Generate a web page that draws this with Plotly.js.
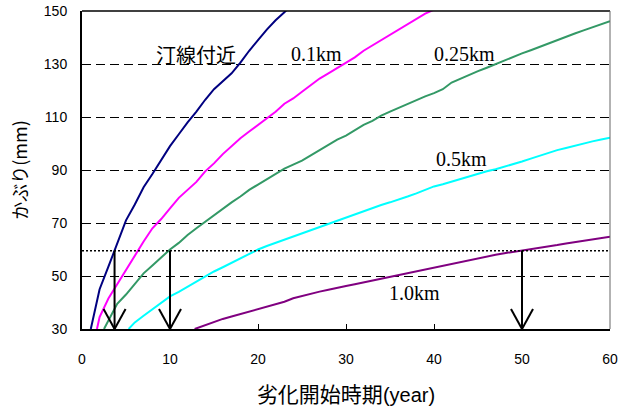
<!DOCTYPE html>
<html>
<head>
<meta charset="utf-8">
<script src="https://cdn.plot.ly/plotly-3.0.1.min.js"></script>
<style>
  html, body { margin: 0; padding: 0; background: #fff; }
  #chart { width: 627px; height: 408px; }
</style>
</head>
<body>
<div id="chart"></div>
<script>
// Cover depth (mm) needed versus years until deterioration starts,
// one curve per distance from the shoreline.

const yearsShore = [1, 2, 3, 4, 5, 6, 7, 8, 9, 10, 11, 12, 13, 14, 15, 16, 17, 18, 19, 20, 21, 22, 23, 24];
const coverShore = [30, 45, 53.5, 62, 71, 77, 83.5, 88.5, 94, 99, 103.5, 108, 112, 116.5, 120.5, 123.5, 126.5, 130.5, 135, 139, 143, 146.5, 149.5, 153];

const years01 = [1.7, 2, 3, 4, 5, 6, 7, 8, 9, 10, 11, 12, 13, 14, 15, 16, 17, 18, 19, 20,
                 21, 22, 23, 24, 25, 26, 27, 28, 29, 30, 31, 32, 33, 34, 35, 36, 37, 38, 39, 40];
const cover01 = [30, 34.5, 41.5, 47, 52.5, 57.5, 63, 68, 71.5, 75.5, 79.5, 82.5, 85.5, 89.5, 92.5, 96, 99, 102, 104.5, 107,
                 109.5, 112, 115, 117, 119.5, 122, 124.5, 126.5, 128.5, 130.5, 132.5, 135, 137, 139, 141, 143, 145, 147, 149, 150.5];

const years025 = [2.5, 3, 4, 5, 6, 7, 8, 9, 10, 11, 12, 13, 14, 15, 16, 17, 18, 19, 20, 21, 22, 23, 24, 25, 26, 27, 28, 29, 30,
                  31, 32, 33, 34, 35, 36, 37, 38, 39, 40, 41, 42, 43, 44, 45, 46, 47, 48, 49, 50, 51, 52, 53, 54, 55, 56, 57, 58, 59, 60];
const cover025 = [30, 33, 39.5, 43, 47, 51, 54, 57, 60, 62.5, 65.5, 68, 70.5, 73, 75.5, 77.8, 80, 82.5, 84.5, 86.5, 88.5, 90.5, 92, 93.5, 95.5, 97.5, 99.5, 101.5, 103,
                  105, 107, 108.5, 110.5, 112, 113.5, 115, 116.5, 117.8, 119, 120.5, 123, 124.5, 126, 127.3, 128.6, 130, 131.3, 132.6, 134, 135.2, 136.5, 137.8, 139.2, 140.5, 141.5, 142.7, 143.9, 145, 146.2];

const years05 = [5.3, 6, 7, 8, 9, 10, 11, 12, 13, 14, 15, 16, 17, 18, 19, 20, 21, 22, 23, 24, 25, 26, 27, 28, 29, 30,
                 31, 32, 33, 34, 35, 36, 37, 38, 39, 40, 41, 42, 43, 44, 45, 46, 47, 48, 49, 50, 51, 52, 53, 54, 55, 56, 57, 58, 59, 60];
const cover05 = [30, 32.5, 35, 37.5, 40, 42.3, 44, 46, 48, 50, 51.7, 53.3, 55, 56.5, 58.5, 60, 61.3, 62.5, 63.7, 64.8, 66, 67.3, 68.5, 69.8, 71, 72.2,
                 73.3, 74.6, 75.8, 76.8, 77.8, 78.8, 80, 81.2, 82.6, 83.8, 84.6, 85.6, 86.6, 87.6, 88.5, 89.5, 90.3, 91.2, 92.2, 93.2, 94.3, 95.4, 96.5, 97.5, 98.3, 99.2, 100, 100.8, 101.5, 102.2];

const years10 = [12.8, 14, 15, 16, 17, 18, 19, 20, 21, 22, 23, 24, 25, 26, 27, 28, 29, 30,
                 31, 32, 33, 34, 35, 36, 37, 38, 39, 40, 41, 42, 43, 44, 45, 46, 47, 48, 49, 50, 51, 52, 53, 54, 55, 56, 57, 58, 59, 60];
const cover10 = [30, 31.5, 32.8, 33.8, 34.7, 35.6, 36.5, 37.4, 38.3, 39.2, 40.3, 41.6, 42.5, 43.3, 44.1, 44.8, 45.6, 46.2,
                 46.9, 47.6, 48.3, 49, 49.8, 50.5, 51.2, 51.8, 52.4, 53.3, 54, 54.5, 55.2, 55.9, 56.6, 57.3, 58, 58.6, 59.1, 59.5, 60.1, 60.6, 61.1, 61.7, 62.3, 62.8, 63.3, 63.8, 64.3, 64.8];

const seriesNames = ['汀線付近', '0.1km', '0.25km', '0.5km', '1.0km'];
const seriesColors = ['#000080', '#ff00ff', '#339966', '#00ffff', '#800080'];

// required cover level and the years where each marked curve reaches it
const requiredCover = 59.5;
const arrowYears = [3.7, 10, 50];

const xTickVals = [0, 10, 20, 30, 40, 50, 60];
const yTickVals = [30, 50, 70, 90, 110, 130, 150];

const xs = [yearsShore, years01, years025, years05, years10];
const ys = [coverShore, cover01, cover025, cover05, cover10];

const traces = xs.map((x, i) => ({
  type: 'scatter',
  mode: 'lines',
  x: x,
  y: ys[i],
  name: seriesNames[i],
  line: { color: seriesColors[i], width: 2 },
  hoverinfo: 'skip'
}));

// curve labels (text positions in data units)
const cjkFont = { family: 'Noto Sans CJK JP, sans-serif', size: 20, color: '#000' };
const serifFont = { family: 'Liberation Serif, Times New Roman, serif', size: 20, color: '#000' };
const labelPos = [
  { x: 13.0, y: 133.6, font: cjkFont },
  { x: 26.7, y: 133.6, font: serifFont },
  { x: 43.5, y: 133.6, font: serifFont },
  { x: 43.1, y: 94.0, font: serifFont },
  { x: 37.8, y: 43.6, font: serifFont }
];
const annotations = labelPos.map((p, i) => ({
  x: p.x, y: p.y, xref: 'x', yref: 'y',
  text: seriesNames[i], showarrow: false,
  xanchor: 'center', yanchor: 'middle',
  font: p.font
}));

const shapes = [];
// dotted line at the required cover
shapes.push({
  type: 'line', xref: 'paper', yref: 'y', x0: 0, x1: 1, y0: requiredCover, y1: requiredCover,
  line: { color: '#000', width: 1.5, dash: '2px,2px' }
});
// arrows down to the year axis
arrowYears.forEach(t => {
  shapes.push({
    type: 'line', xref: 'x', yref: 'y', x0: t, x1: t, y0: requiredCover, y1: 30,
    line: { color: '#000', width: 2 }
  });
  [-11, 11].forEach(dx => {
    shapes.push({
      type: 'line', xref: 'x', yref: 'y',
      xsizemode: 'pixel', ysizemode: 'pixel', xanchor: t, yanchor: 30,
      x0: dx, y0: 20, x1: 0, y1: 0,
      line: { color: '#000', width: 2 }
    });
  });
});
// frame: top edge black, right edge grey
shapes.push({
  type: 'line', xref: 'paper', yref: 'paper', x0: 0, x1: 1, y0: 1, y1: 1,
  line: { color: '#000', width: 1.5 }
});
shapes.push({
  type: 'line', xref: 'paper', yref: 'paper', x0: 1, x1: 1, y0: 0, y1: 1,
  line: { color: '#666', width: 1 }
});

const layout = {
  width: 627,
  height: 408,
  margin: { l: 82, r: 17, t: 11, b: 79 },
  paper_bgcolor: '#fff',
  plot_bgcolor: '#fff',
  showlegend: false,
  font: { family: 'Liberation Sans, Arial, sans-serif', color: '#000' },
  xaxis: {
    range: [0, 60],
    tickvals: xTickVals,
    ticktext: xTickVals.map(String),
    ticks: 'inside',
    ticklen: 5,
    tickwidth: 1,
    tickcolor: '#000',
    ticklabelstandoff: 16,
    tickfont: { size: 14, color: '#000' },
    showgrid: false,
    zeroline: false,
    showline: true,
    linecolor: '#000',
    linewidth: 2,
    title: {
      text: '劣化開始時期<span style="font-family:Liberation Sans, Arial, sans-serif;font-size:20px">(year)</span>',
      font: { family: 'Noto Sans CJK JP, sans-serif', size: 21, color: '#000' },
      standoff: 24
    }
  },
  yaxis: {
    range: [30, 150],
    tickvals: yTickVals,
    ticktext: yTickVals.map(String),
    ticks: '',
    ticklabelstandoff: 10,
    tickfont: { size: 14, color: '#000' },
    showgrid: true,
    gridcolor: '#000',
    gridwidth: 1,
    griddash: '9px,5px',
    zeroline: false,
    showline: true,
    linecolor: '#000',
    linewidth: 2,
    title: {
      text: 'かぶり(mm)',
      font: { family: 'Noto Sans CJK JP, sans-serif', size: 18, color: '#000' },
      standoff: 12
    }
  },
  annotations: annotations,
  shapes: shapes
};

Plotly.newPlot('chart', traces, layout, { staticPlot: true, displayModeBar: false });
</script>
</body>
</html>
